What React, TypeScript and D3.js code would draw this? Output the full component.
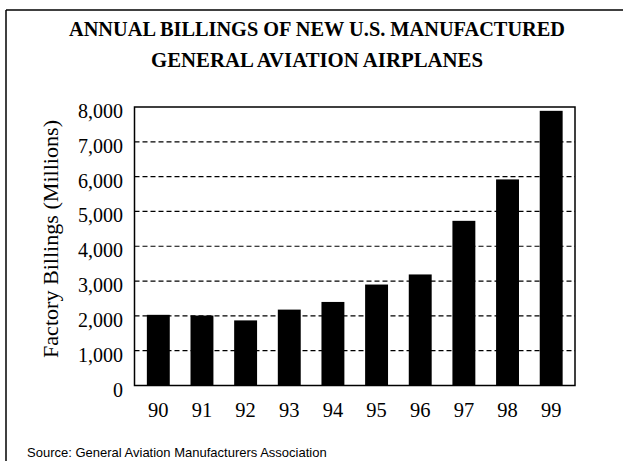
import React from "react";
import * as d3 from "d3";

const years = ["90", "91", "92", "93", "94", "95", "96", "97", "98", "99"];
const billings = [2030, 2010, 1870, 2180, 2400, 2900, 3190, 4730, 5920, 7890];
const yTicks = [0, 1000, 2000, 3000, 4000, 5000, 6000, 7000, 8000];
const titleLines = ["ANNUAL BILLINGS OF NEW U.S. MANUFACTURED", "GENERAL AVIATION AIRPLANES"];
const titleWidths = [496, 332];
const yAxisTitle = "Factory Billings (Millions)";
const sourceText = "Source: General Aviation Manufacturers Association";

const W = 623;
const H = 461;
const plot = { left: 134.5, right: 575, top: 107, bottom: 385.5 };
const serif = "'Liberation Serif', 'Times New Roman', serif";
const sans = "'Liberation Sans', Arial, sans-serif";

export default function App() {
  const x = d3
    .scaleBand<string>()
    .domain(years)
    .range([plot.left, plot.right])
    .paddingInner(0.475)
    .paddingOuter(0.283);
  const y = d3.scaleLinear().domain([0, 8000]).range([plot.bottom, plot.top]);
  const fmt = d3.format(",");

  return (
    <svg
      width={W}
      height={H}
      style={{ position: "absolute", left: 0, top: 0, background: "#fff" }}
    >
      <rect x={0} y={0} width={W} height={H} fill="#fff" />
      {/* outer frame */}
      <line x1={6} y1={10} x2={W} y2={10} stroke="#000" strokeWidth={1.5} />
      <line x1={6} y1={10} x2={6} y2={H} stroke="#000" strokeWidth={1.5} />

      {/* title */}
      {titleLines.map((t, i) => (
        <text
          key={i}
          x={317}
          y={i === 0 ? 35.5 : 66.5}
          textAnchor="middle"
          fontFamily={serif}
          fontWeight="bold"
          fontSize={20.5}
          textLength={titleWidths[i]}
          lengthAdjust="spacingAndGlyphs"
          fill="#000"
        >
          {t}
        </text>
      ))}

      {/* gridlines */}
      {yTicks
        .filter((v) => v > 0 && v < 8000)
        .map((v) => (
          <line
            key={v}
            x1={plot.left}
            x2={plot.right}
            y1={y(v)}
            y2={y(v)}
            stroke="#000"
            strokeWidth={1.2}
            strokeDasharray="5,3"
          />
        ))}

      {/* bars */}
      {years.map((yr, i) => (
        <rect
          key={yr}
          x={x(yr)}
          y={y(billings[i])}
          width={x.bandwidth()}
          height={y(0) - y(billings[i])}
          fill="#000"
        />
      ))}

      {/* plot frame */}
      <rect
        x={plot.left}
        y={plot.top}
        width={plot.right - plot.left}
        height={plot.bottom - plot.top}
        fill="none"
        stroke="#000"
        strokeWidth={1.5}
      />

      {/* y tick labels */}
      {yTicks.map((v) => (
        <text
          key={v}
          x={123}
          y={y(v) + 11}
          textAnchor="end"
          fontFamily={serif}
          fontSize={20}
          fill="#000"
        >
          {fmt(v)}
        </text>
      ))}

      {/* x tick labels */}
      {years.map((yr) => (
        <text
          key={yr}
          x={(x(yr) as number) + x.bandwidth() / 2}
          y={416.5}
          textAnchor="middle"
          fontFamily={serif}
          fontSize={20.5}
          fill="#000"
        >
          {yr}
        </text>
      ))}

      {/* y axis title */}
      <text
        transform={`translate(58, ${239}) rotate(-90)`}
        textAnchor="middle"
        fontFamily={serif}
        fontSize={21}
        textLength={238}
        lengthAdjust="spacingAndGlyphs"
        fill="#000"
      >
        {yAxisTitle}
      </text>

      {/* source */}
      <text x={27} y={457} fontFamily={sans} fontSize={13} fill="#000">
        {sourceText}
      </text>
    </svg>
  );
}
